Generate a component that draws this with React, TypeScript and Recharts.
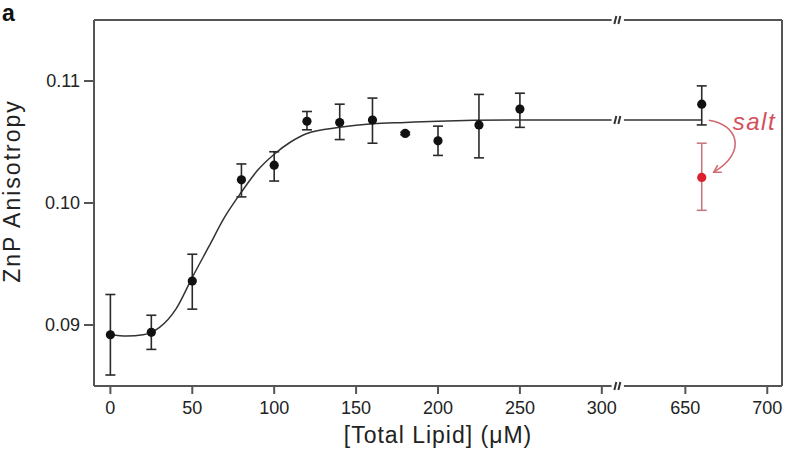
import React from 'react';
import {
  ComposedChart, Line, Scatter, XAxis, YAxis, ErrorBar, ReferenceLine, ReferenceDot, Label,
} from 'recharts';

// x axis is broken between 300 and 650 µM
const BREAK_SHIFT = 299;
const BREAK_X = 309.5;
const BREAK_LO = 306;
const BREAK_HI = 313.5;
const toAxis = (x: number) => (x < 450 ? x : x - BREAK_SHIFT);
const fromAxis = (v: number) => (v > BREAK_X ? v + BREAK_SHIFT : v);

const xTickValues = [0, 50, 100, 150, 200, 250, 300, 650, 700];
const yTickValues = [0.09, 0.1, 0.11];

// measured points
const lipid = [0, 25, 50, 80, 100, 120, 140, 160, 180, 200, 225, 250, 660];
const aniso = [0.0892, 0.0894, 0.0936, 0.1019, 0.1031, 0.1067, 0.1066, 0.1068, 0.1057, 0.1051, 0.1064, 0.1077, 0.1081];
const anisoLow = [0.0859, 0.0880, 0.0913, 0.1005, 0.1018, 0.1060, 0.1052, 0.1049, 0.1056, 0.1039, 0.1037, 0.1062, 0.1064];
const anisoHigh = [0.0925, 0.0908, 0.0958, 0.1032, 0.1042, 0.1075, 0.1081, 0.1086, 0.1058, 0.1063, 0.1089, 0.1090, 0.1096];

// + salt
const saltLipid = [660];
const saltAniso = [0.1021];
const saltLow = [0.0994];
const saltHigh = [0.1049];

// fitted binding curve
const fitLipid = [0, 10, 20, 25, 30, 40, 50, 60, 70, 80, 90, 100, 110, 120, 140, 160, 180, 200, 250, 300, BREAK_LO];
const fitAniso = [0.0892, 0.0891, 0.0892, 0.0894, 0.0898, 0.0913, 0.0939, 0.0964, 0.0989, 0.1009, 0.1027, 0.1040, 0.1050, 0.1057, 0.1062, 0.1065, 0.1066, 0.1067, 0.1068, 0.1068, 0.1068];
const fitLipidRight = [BREAK_HI + BREAK_SHIFT, 660];
const fitAnisoRight = [0.1068, 0.1068];

const points = lipid.map((l, i) => ({
  x: toAxis(l), y: aniso[i], err: [aniso[i] - anisoLow[i], anisoHigh[i] - aniso[i]],
}));
const saltPoints = saltLipid.map((l, i) => ({
  x: toAxis(l), y: saltAniso[i], err: [saltAniso[i] - saltLow[i], saltHigh[i] - saltAniso[i]],
}));
const fitLeft = fitLipid.map((l, i) => ({ x: toAxis(l), fit: fitAniso[i] }));
const fitRight = fitLipidRight.map((l, i) => ({ x: toAxis(l), fit: fitAnisoRight[i] }));

const FRAME = '#555';
const FONT = '"Liberation Sans", Arial, Helvetica, sans-serif';

const BreakMark = (props: any) => {
  const { cx, cy } = props;
  return (
    <g>
      <rect x={cx - 4} y={cy - 6} width={8} height={12} fill="#fff" />
      <line x1={cx - 3} y1={cy + 4} x2={cx - 1} y2={cy - 4} stroke="#333" strokeWidth={2} />
      <line x1={cx + 1} y1={cy + 4} x2={cx + 3} y2={cy - 4} stroke="#333" strokeWidth={2} />
    </g>
  );
};

const SaltNote = (props: any) => {
  const { cx, cy } = props;
  const ex = cx + 12;
  const ey = cy + 68;
  return (
    <g>
      <path
        d={`M ${cx + 7} ${cy + 16} C ${cx + 36} ${cy + 20}, ${cx + 46} ${cy + 48}, ${ex} ${ey}`}
        fill="none" stroke="#d06a72" strokeWidth={1.6}
      />
      <polyline points={`${ex + 8},${ey} ${ex},${ey} ${ex + 4},${ey - 7}`} fill="none" stroke="#d06a72" strokeWidth={1.6} />
      <text x={cx + 31} y={cy + 26} fill="#d2505c" fontSize={24} fontStyle="italic" fontFamily={FONT} letterSpacing={1.5}>
        salt
      </text>
    </g>
  );
};

const blackDot = (p: any) => <circle cx={p.cx} cy={p.cy} r={4.6} fill="#111" />;
const redDot = (p: any) => <circle cx={p.cx} cy={p.cy} r={4.6} fill="#dd2030" />;

const xLabel = (props: any) => {
  const vb = props.viewBox;
  return (
    <text x={vb.x + vb.width / 2} y={vb.y + 57} textAnchor="middle" fontSize={23} fill="#222" fontFamily={FONT} letterSpacing={1}>
      [Total Lipid] (μM)
    </text>
  );
};

const yLabel = () => (
  <text x={20} y={191} transform="rotate(-90, 20, 191)" textAnchor="middle" fontSize={23} fill="#222" fontFamily={FONT} letterSpacing={2}>
    ZnP Anisotropy
  </text>
);

export default function App() {
  return (
    <div style={{ position: 'absolute', left: 0, top: 0, width: 788, height: 458, background: '#fff', fontFamily: FONT }}>
      <div style={{ position: 'absolute', left: 2, top: 0, fontSize: 23, fontWeight: 700, color: '#111', fontFamily: FONT }}>a</div>
      <ComposedChart width={788} height={458} margin={{ top: 20, right: 6, bottom: 12, left: 0 }}>
        <XAxis
          dataKey="x"
          type="number"
          domain={[-10, 410]}
          ticks={xTickValues.map(toAxis)}
          tickFormatter={(v: number) => String(fromAxis(v))}
          height={60}
          axisLine={false}
          tickLine={{ stroke: FRAME, strokeWidth: 2 }}
          tickSize={8}
          tickMargin={7}
          tick={{ fontSize: 18, fill: '#222' }}
          allowDataOverflow
        >
          <Label content={xLabel} />
        </XAxis>
        <YAxis
          dataKey="y"
          type="number"
          domain={[0.085, 0.115]}
          ticks={yTickValues}
          tickFormatter={(v: number) => v.toFixed(2)}
          width={94}
          axisLine={{ stroke: FRAME, strokeWidth: 2 }}
          tickLine={{ stroke: FRAME, strokeWidth: 2 }}
          tickSize={10}
          tickMargin={4}
          tick={{ fontSize: 18, fill: '#222' }}
          allowDataOverflow
        >
          <Label content={yLabel} />
        </YAxis>

        <ReferenceLine segment={[{ x: -10, y: 0.115 }, { x: BREAK_LO, y: 0.115 }]} stroke={FRAME} strokeWidth={2} />
        <ReferenceLine segment={[{ x: BREAK_HI, y: 0.115 }, { x: 410, y: 0.115 }]} stroke={FRAME} strokeWidth={2} />
        <ReferenceLine segment={[{ x: -10, y: 0.085 }, { x: BREAK_LO, y: 0.085 }]} stroke={FRAME} strokeWidth={2} />
        <ReferenceLine segment={[{ x: BREAK_HI, y: 0.085 }, { x: 410, y: 0.085 }]} stroke={FRAME} strokeWidth={2} />
        <ReferenceLine x={410} stroke={FRAME} strokeWidth={2} />

        <Line data={fitLeft} dataKey="fit" type="monotone" stroke="#333" strokeWidth={1.5} dot={false} isAnimationActive={false} />
        <Line data={fitRight} dataKey="fit" type="linear" stroke="#333" strokeWidth={1.5} dot={false} isAnimationActive={false} />

        <Scatter data={points} dataKey="y" shape={blackDot} isAnimationActive={false}>
          <ErrorBar dataKey="err" direction="y" width={5} stroke="#2a2a2a" strokeWidth={1.6} />
        </Scatter>
        <Scatter data={saltPoints} dataKey="y" shape={redDot} isAnimationActive={false}>
          <ErrorBar dataKey="err" direction="y" width={5} stroke="#c87a7e" strokeWidth={1.6} />
        </Scatter>

        <ReferenceDot x={BREAK_X} y={0.115} r={0} shape={BreakMark} ifOverflow="visible" />
        <ReferenceDot x={BREAK_X} y={0.1068} r={0} shape={BreakMark} ifOverflow="visible" />
        <ReferenceDot x={BREAK_X} y={0.085} r={0} shape={BreakMark} ifOverflow="visible" />
        <ReferenceDot x={toAxis(660)} y={0.1081} r={0} shape={SaltNote} ifOverflow="visible" />
      </ComposedChart>
    </div>
  );
}
